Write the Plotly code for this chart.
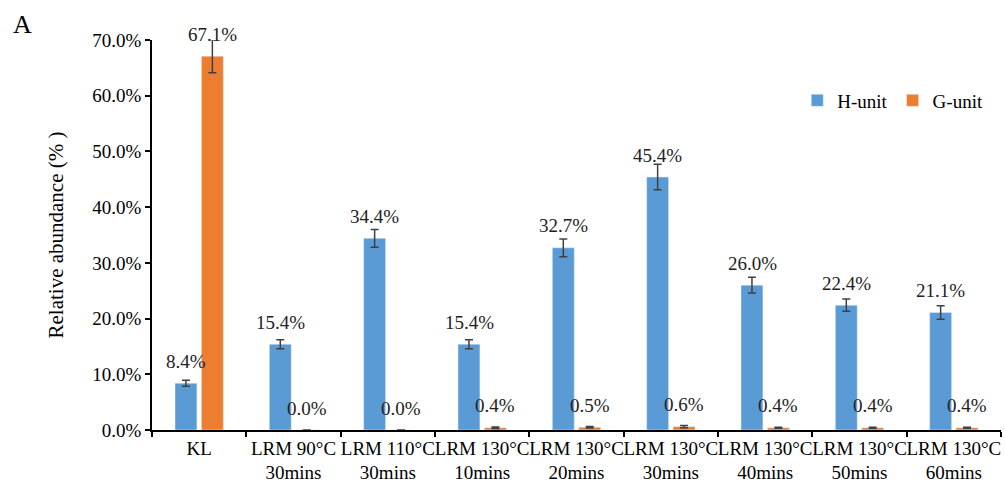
import plotly.graph_objects as go

categories = ["KL", "LRM 90°C<br>30mins", "LRM 110°C<br>30mins", "LRM 130°C<br>10mins",
              "LRM 130°C<br>20mins", "LRM 130°C<br>30mins", "LRM 130°C<br>40mins",
              "LRM 130°C<br>50mins", "LRM 130°C<br>60mins"]
h_unit = [8.4, 15.4, 34.4, 15.4, 32.7, 45.4, 26.0, 22.4, 21.1]
h_err = [0.55, 0.8, 1.6, 0.8, 1.6, 2.3, 1.4, 1.1, 1.2]
g_unit = [67.1, 0.0, 0.0, 0.4, 0.5, 0.6, 0.4, 0.4, 0.4]
g_err = [3.0, 0.0, 0.0, 0.15, 0.15, 0.2, 0.1, 0.1, 0.1]

BLUE = "#5B9BD5"
ORANGE = "#ED7D31"
FONT = "Liberation Serif"
FS = 19

fig = go.Figure()
fig.add_trace(go.Bar(name="H-unit", x=categories, y=h_unit, marker_color=BLUE,
                     error_y=dict(type="data", array=h_err, color="#404040", thickness=1.5, width=4)))
fig.add_trace(go.Bar(name="G-unit", x=categories, y=g_unit, marker_color=ORANGE,
                     error_y=dict(type="data", array=g_err, color="#404040", thickness=1.5, width=4)))

for c, v in zip(categories, h_unit):
    fig.add_annotation(x=c, y=v, xref="x", yref="y", text=f"{v:.1f}%", showarrow=False,
                       xshift=-13, yshift=22, yanchor="middle",
                       font=dict(family=FONT, size=FS, color="#222"))
for c, v in zip(categories, g_unit):
    fig.add_annotation(x=c, y=v, xref="x", yref="y", text=f"{v:.1f}%", showarrow=False,
                       xshift=13, yshift=22, yanchor="middle",
                       font=dict(family=FONT, size=FS, color="#222"))

# panel letter, positioned in paper coordinates of the plot area
fig.add_annotation(x=(22 - 152) / (1005 - 152 - 4), y=(486 - 56 - 25) / (486 - 40 - 56),
                   xref="paper", yref="paper", text="A", showarrow=False,
                   xanchor="center", yanchor="middle",
                   font=dict(family=FONT, size=26, color="black"))

fig.update_layout(
    width=1005, height=486,
    margin=dict(l=152, r=4, t=40, b=56),
    paper_bgcolor="white", plot_bgcolor="white",
    barmode="group", bargap=0.44, bargroupgap=0.17,
    font=dict(family=FONT, size=FS, color="black"),
    legend=dict(orientation="h", x=0.985, y=0.845, xanchor="right", yanchor="middle",
                font=dict(family=FONT, size=FS, color="black"), bgcolor="rgba(0,0,0,0)",
                itemwidth=30, traceorder="normal"),
    xaxis=dict(showline=True, linecolor="black", linewidth=1.5, ticks="outside",
               tickson="boundaries", ticklen=5, tickcolor="black", tickwidth=1.5, tickangle=0,
               tickfont=dict(family=FONT, size=FS, color="black")),
    yaxis=dict(range=[0, 70], dtick=10, showline=True, linecolor="black", linewidth=1.5,
               ticks="outside", ticklen=5, tickcolor="black", tickwidth=1.5,
               tickformat=".1f", ticksuffix="%", showgrid=False, zeroline=False,
               tickfont=dict(family=FONT, size=FS, color="black"),
               title=dict(text="Relative abundance (% )", font=dict(family=FONT, size=21, color="black"),
                          standoff=23)),
)

fig.write_html("out.html")
